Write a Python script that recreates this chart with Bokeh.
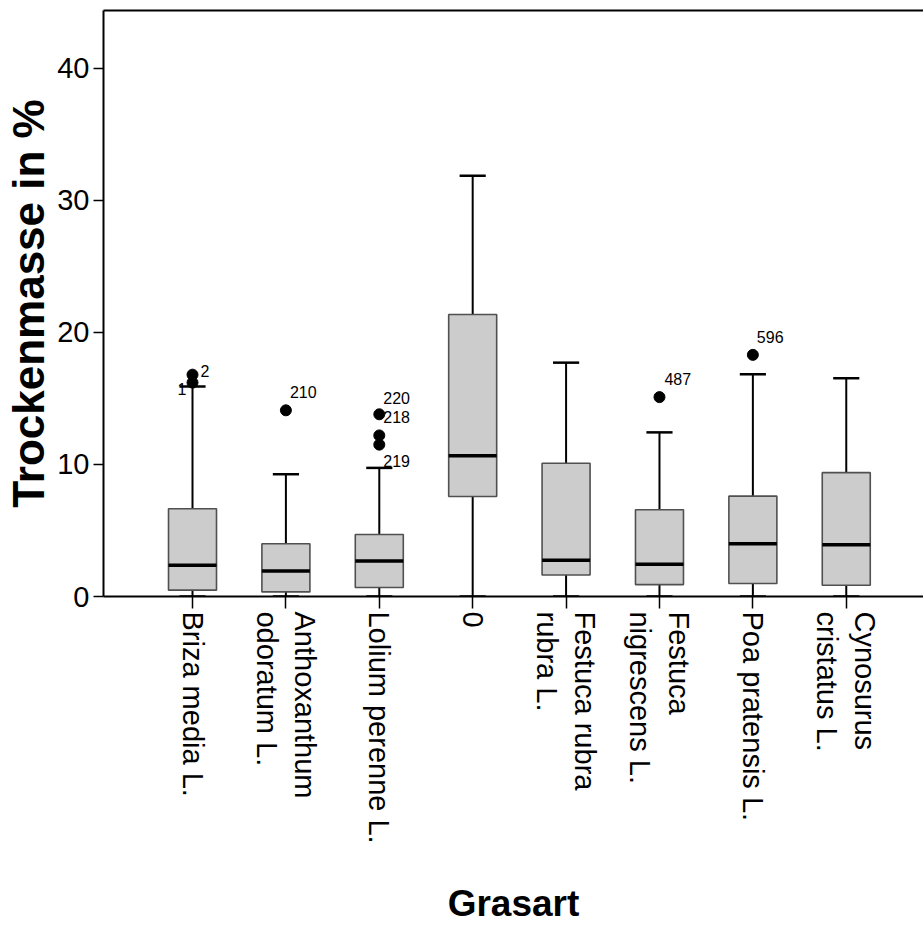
from bokeh.plotting import figure
from bokeh.models import Range1d, FixedTicker, LinearAxis, ColumnDataSource
from bokeh.core.properties import value
from bokeh.embed import file_html
from bokeh.resources import INLINE

# ---- data ----
categories = ["Briza media L.", "Anthoxanthum\nodoratum L.", "Lolium perenne L.", "0",
              "Festuca rubra\nrubra L.", "Festuca\nnigrescens L.", "Poa pratensis L.",
              "Cynosurus\ncristatus L."]
q1 = [0.48, 0.35, 0.68, 7.57, 1.63, 0.90, 0.98, 0.85]
median = [2.36, 1.94, 2.69, 10.66, 2.74, 2.44, 4.00, 3.92]
q3 = [6.64, 4.00, 4.70, 21.36, 10.09, 6.57, 7.60, 9.38]
whisker_low = [0, 0, 0, 0, 0, 0, 0, 0]
whisker_high = [15.90, 9.26, 9.74, 31.87, 17.71, 12.43, 16.83, 16.53]

outlier_cat = [1, 1, 2, 3, 3, 3, 6, 7]
outlier_val = [16.8, 16.2, 14.1, 13.8, 12.2, 11.5, 15.1, 18.3]

label_cat = [1, 1, 2, 3, 3, 3, 6, 7]
label_val = [16.8, 16.2, 14.1, 13.8, 13.8, 11.5, 15.1, 18.3]
label_text = ["2", "1", "210", "220", "218", "219", "487", "596"]

y_ticks = [0, 10, 20, 30, 40]

# ---- layout / style (not data) ----
label_dx = [8, -15, 4, 4, 4, 4, 5, 4]
label_dy = [-4, 6, -18, -16, 3, 16, -18, -18]
FONT = "Liberation Sans"
BOX_W = 0.514
CAP_W = 0.28

pos = list(range(1, len(categories) + 1))

p = figure(width=923, height=926,
           x_range=Range1d(0.047, 8.827), y_range=Range1d(0, 44.38),
           output_backend="svg", toolbar_location=None,
           min_border_left=103, min_border_right=0, min_border_top=10,
           min_border_bottom=328)
p.outline_line_color = None
p.xgrid.visible = False
p.ygrid.visible = False
p.background_fill_color = "white"
p.border_fill_color = "white"

box_src = ColumnDataSource(dict(
    x=pos, q1=q1, med=median, q3=q3, lo=whisker_low, hi=whisker_high,
    x0=[x - BOX_W / 2 for x in pos], x1=[x + BOX_W / 2 for x in pos],
    c0=[x - CAP_W / 2 for x in pos], c1=[x + CAP_W / 2 for x in pos],
))

# whiskers
p.segment(x0="x", y0="q3", x1="x", y1="hi", source=box_src, line_color="black", line_width=2)
p.segment(x0="x", y0="lo", x1="x", y1="q1", source=box_src, line_color="black", line_width=2)
p.segment(x0="c0", y0="hi", x1="c1", y1="hi", source=box_src, line_color="black", line_width=2.5)
p.segment(x0="c0", y0="lo", x1="c1", y1="lo", source=box_src, line_color="black", line_width=2.5)
# boxes
p.vbar(x="x", width=BOX_W, bottom="q1", top="q3", source=box_src,
       fill_color="#cccccc", line_color="#505050", line_width=1.6)
# medians
p.segment(x0="x0", y0="med", x1="x1", y1="med", source=box_src, line_color="black", line_width=3.5)

# outliers
p.scatter(x=outlier_cat, y=outlier_val, size=11, fill_color="black", line_color="black")

lab_src = ColumnDataSource(dict(x=label_cat, y=label_val, t=label_text, dx=label_dx, dy=label_dy))
p.text(x="x", y="y", text="t", x_offset="dx", y_offset="dy", source=lab_src,
       text_font=value(FONT), text_font_size="16px", text_color="black",
       text_align="left", text_baseline="middle")

# x axis
xa = p.xaxis[0]
xa.ticker = FixedTicker(ticks=pos)
xa.major_label_overrides = {x: c for x, c in zip(pos, categories)}
xa.major_label_orientation = -1.5707963267948966
xa.major_label_text_font = FONT
xa.major_label_text_font_size = "29px"
xa.major_label_text_color = "black"
xa.major_label_standoff = 3
xa.major_tick_out = 12
xa.major_tick_in = 0
xa.minor_tick_out = 0
xa.minor_tick_in = 0
xa.major_tick_line_width = 1.5
xa.major_tick_line_color = "black"
xa.axis_line_width = 2
xa.axis_line_color = "black"
xa.axis_label = "Grasart"
xa.axis_label_text_font = FONT
xa.axis_label_text_font_style = "bold"
xa.axis_label_text_font_size = "37px"
xa.axis_label_text_line_height = 1.0
xa.axis_label_text_color = "black"
xa.axis_label_standoff = 36

# y axis
ya = p.yaxis[0]
ya.ticker = FixedTicker(ticks=y_ticks)
ya.major_label_text_font = FONT
ya.major_label_text_font_size = "29px"
ya.major_label_text_color = "black"
ya.major_label_standoff = 4
ya.major_tick_out = 10
ya.major_tick_in = 0
ya.minor_tick_out = 0
ya.minor_tick_in = 0
ya.major_tick_line_width = 1.5
ya.major_tick_line_color = "black"
ya.axis_line_width = 2
ya.axis_line_color = "black"
ya.axis_label = "Trockenmasse in %"
ya.axis_label_text_font = FONT
ya.axis_label_text_font_style = "bold"
ya.axis_label_text_font_size = "44px"
ya.axis_label_text_color = "black"
ya.axis_label_text_line_height = 0.9
ya.axis_label_standoff = 1

# top border line
top = LinearAxis(ticker=FixedTicker(ticks=[]), axis_line_width=2, axis_line_color="black",
                 major_tick_out=0, major_tick_in=0, minor_tick_out=0, minor_tick_in=0,
                 major_label_standoff=0, major_label_text_font_size="0px")
p.add_layout(top, "above")

open("out.html", "w").write(file_html(p, INLINE))
